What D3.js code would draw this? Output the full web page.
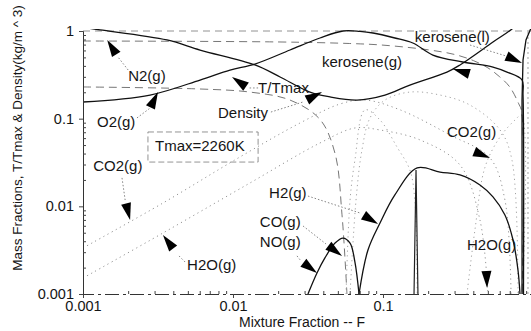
<!DOCTYPE html>
<html><head><meta charset="utf-8">
<script src="https://cdn.jsdelivr.net/npm/d3@7"></script>
<style>
body{margin:0;background:#fff}
svg{display:block}
text{font-family:"Liberation Sans",Arial,Helvetica,sans-serif;fill:#151515}
</style>
</head><body>
<svg id="chart" width="531" height="331"></svg>
<script>
// ---- axes ----
const xMajor = [0.001, 0.01, 0.1, 1];
const xMajorLabels = ["0.001", "0.01", "0.1", ""];
const yMajor = [0.001, 0.01, 0.1, 1];
const yMajorLabels = ["0.001", "0.01", "0.1", "1"];
const xTitle = "Mixture Fraction -- F";
const yTitle = "Mass Fractions, T/Tmax & Density(kg/m ^ 3)";

// ---- series: [mixture fraction F, value] ----
const tempRatio = [[0.001,0.155],[0.0028,0.186],[0.00603,0.276],[0.00955,0.359],[0.014,0.42],[0.024,0.607],[0.038,0.832],[0.0541,1.0],[0.0702,0.99],[0.0858,0.949],[0.12,0.832],[0.158,0.73],[0.215,0.532],[0.34,0.443],[0.541,0.388],[0.671,0.34],[0.845,0.276],[0.858,0.186],[0.864,0.001]];
const density = [[0.001,1.1],[0.0013,1.03],[0.00363,0.79],[0.00603,0.607],[0.014,0.41],[0.0206,0.299],[0.0326,0.201],[0.0443,0.177],[0.0671,0.163],[0.103,0.186],[0.151,0.242],[0.267,0.34],[0.326,0.41],[0.541,0.749],[0.736,1.08],[0.8,1.3]];
const n2Gas = [[0.001,0.769],[0.02,0.75],[0.06,0.72],[0.1,0.69],[0.2,0.61],[0.3,0.54],[0.4,0.46],[0.5,0.38],[0.6,0.3],[0.7,0.23],[0.8,0.15],[0.84,0.12],[0.846,0.001]];
const o2Gas = [[0.001,0.23],[0.00603,0.218],[0.013,0.201],[0.024,0.163],[0.038,0.098],[0.0479,0.04],[0.0533,0.008],[0.0575,0.001]];
const co2Gas = [[0.001,0.00335],[0.00341,0.0109],[0.0111,0.0365],[0.028,0.0893],[0.0517,0.147],[0.0759,0.163],[0.13,0.126],[0.28,0.0651],[0.517,0.0356],[0.65,0.0118],[0.714,0.001]];
const h2oGas = [[0.001,0.00152],[0.00341,0.00496],[0.013,0.0185],[0.038,0.0528],[0.065,0.0783],[0.0955,0.0743],[0.177,0.0571],[0.326,0.0296],[0.443,0.00698],[0.501,0.001]];
const h2Gas = [[0.0692,0.001],[0.0794,0.00318],[0.0955,0.00646],[0.12,0.0135],[0.169,0.0274],[0.24,0.0246],[0.326,0.0228],[0.443,0.0175],[0.541,0.0128],[0.65,0.00796],[0.736,0.00413],[0.794,0.00188],[0.819,0.001]];
const noGas = [[0.0316,0.001],[0.0363,0.00174],[0.041,0.00258],[0.0479,0.00381],[0.0541,0.00435],[0.0603,0.00381],[0.065,0.00231],[0.0692,0.001]];
const coGas = [[0.0603,0.001],[0.0661,0.0118],[0.0724,0.044],[0.0819,0.102],[0.103,0.163],[0.151,0.201],[0.24,0.186],[0.38,0.143],[0.603,0.0743],[0.724,0.0338],[0.794,0.001]];
const ohGas = [[0.0567,0.001],[0.0603,0.0118],[0.065,0.0338],[0.0759,0.126],[0.0955,0.0966],[0.124,0.0475],[0.151,0.026],[0.163,0.0118],[0.169,0.001]];
const spikeGas = [[0.161,0.001],[0.166,0.026],[0.171,0.001]];
const keroseneGas = [[0.363,0.001],[0.41,0.00537],[0.479,0.0281],[0.603,0.0618],[0.759,0.0966],[0.84,0.11],[0.85,0.001]];
const keroseneLiq = [[0.845,0.001],[0.845,0.163],[0.858,0.467],[0.898,0.79],[0.97,1.08]];
const residual = [[0.926,0.001],[0.926,1.03]];

// ---- annotations (data coordinates) ----
const labels = [
  ["N2(g)",0.002,0.269],["O2(g)",0.00124,0.0804],["CO2(g)",0.00117,0.0253],
  ["T/Tmax",0.0147,0.196],["Density",0.00794,0.102],["Tmax=2260K",0.00302,0.0428],
  ["H2(g)",0.0174,0.0125],["CO(g)",0.0151,0.00581],["NO(g)",0.0151,0.00344],
  ["H2O(g)",0.00494,0.00188],["kerosene(g)",0.0392,0.388],["kerosene(l)",0.163,0.749],
  ["CO2(g)",0.267,0.0618],["H2O(g)",0.363,0.00318]
];
const tmaxBox = [[0.00271,0.0705],[0.0147,0.032]];
// arrow: tip F, tip V, base F, base V
const arrows = [
  [0.00145,0.79,0.00171,0.505],[0.00316,0.201,0.0028,0.132],[0.00206,0.00698,0.00191,0.0118],
  [0.00985,0.299,0.0126,0.224],[0.0392,0.201,0.0293,0.155],[0.00341,0.00471,0.0043,0.00279],
  [0.293,0.369,0.398,0.315],[0.845,0.431,0.661,0.519],[0.517,0.0356,0.38,0.044],
  [0.0927,0.00629,0.0702,0.0084],[0.0533,0.00272,0.0417,0.00372],[0.0363,0.00174,0.0284,0.00238],
  [0.494,0.00117,0.486,0.00258]
];
// leaders: from F,V to F,V
const leaders = [
  [0.002,0.359,0.00171,0.505],[0.00229,0.102,0.0028,0.132],[0.00182,0.0211,0.00191,0.0118],
  [0.0147,0.224,0.0126,0.224],[0.0179,0.119,0.0293,0.155],[0.00479,0.00232,0.0043,0.00279],
  [0.38,0.692,0.661,0.519],[0.0316,0.0131,0.0702,0.0084],[0.0293,0.00597,0.0417,0.00372],
  [0.0267,0.00272,0.0284,0.00238]
];

// ---- drawing ----
const svg = d3.select("#chart");
const x = d3.scaleLog().domain([0.001, 1]).range([83, 533]);
const y = d3.scaleLog().domain([0.001, 1]).range([294, 31]);

svg.append("clipPath").attr("id","plot").append("rect")
  .attr("x",83).attr("y",29).attr("width",448).attr("height",266);

const g = svg.append("g").attr("clip-path","url(#plot)");

// top frame
g.append("line").attr("x1",x(0.001)).attr("x2",x(1)).attr("y1",y(1)).attr("y2",y(1))
  .attr("stroke","#777").attr("stroke-width",0.8).attr("stroke-dasharray","7,5");

const seriesTable = [
  {d:n2Gas, c:"#666", w:0.9, dash:"8,5"},
  {d:o2Gas, c:"#666", w:0.9, dash:"8,5"},
  {d:co2Gas, c:"#888", w:0.9, dash:"1.2,3.5"},
  {d:h2oGas, c:"#888", w:0.9, dash:"1.2,3.5"},
  {d:coGas, c:"#999", w:0.9, dash:"1.2,3.5"},
  {d:ohGas, c:"#999", w:0.9, dash:"1.2,3.5"},
  {d:keroseneGas, c:"#999", w:0.9, dash:"1.2,3.5"},
  {d:residual, c:"#999", w:0.9, dash:"2,3", lin:true},
  {d:spikeGas, c:"#222", w:1.2, lin:true},
  {d:noGas, c:"#111", w:1.3},
  {d:h2Gas, c:"#111", w:1.3},
  {d:keroseneLiq, c:"#111", w:1.3, lin:true},
  {d:density, c:"#111", w:1.3},
  {d:tempRatio, c:"#111", w:1.3}
];
seriesTable.forEach(s => {
  const line = d3.line().x(d => x(d[0])).y(d => y(d[1]))
    .curve(s.lin ? d3.curveLinear : d3.curveCatmullRom.alpha(0.5));
  g.append("path").attr("d", line(s.d)).attr("fill","none")
    .attr("stroke", s.c).attr("stroke-width", s.w)
    .attr("stroke-dasharray", s.dash || null);
});

// axes
const minorX = [], minorY = [];
[0.001,0.01,0.1].forEach(b => { for (let k=2;k<10;k++){ minorX.push(b*k); minorY.push(b*k);} });

const xAxis = svg.append("g").attr("transform","translate(0,294)")
  .call(d3.axisBottom(x).tickValues(xMajor).tickFormat((d,i)=>xMajorLabels[i]).tickSize(4).tickPadding(3));
svg.append("g").attr("transform","translate(0,294)")
  .call(d3.axisBottom(x).tickValues(minorX).tickFormat("").tickSize(-3))
  .select(".domain").remove();
const yAxis = svg.append("g").attr("transform","translate(83,0)")
  .call(d3.axisLeft(y).tickValues(yMajor).tickFormat((d,i)=>yMajorLabels[i]).tickSize(4).tickPadding(5));
svg.append("g").attr("transform","translate(83,0)")
  .call(d3.axisLeft(y).tickValues(minorY).tickFormat("").tickSize(-3))
  .select(".domain").remove();

svg.selectAll(".domain").attr("stroke","#333").attr("stroke-width",1);
xAxis.select(".domain").attr("stroke-dasharray","14,4,3,4");
svg.selectAll(".tick line").attr("stroke","#444");
svg.selectAll(".tick text").attr("font-size","14.5px").attr("fill","#151515")
  .attr("font-family","Liberation Sans, Arial, sans-serif");

svg.append("text").attr("x",302).attr("y",327).attr("text-anchor","middle")
  .attr("font-size","14px").text(xTitle);
svg.append("text").attr("transform","translate(22,138) rotate(-90)").attr("text-anchor","middle")
  .attr("font-size","13.5px").text(yTitle);

// annotations
const ann = svg.append("g");
leaders.forEach(l => {
  ann.append("line").attr("x1",x(l[0])).attr("y1",y(l[1])).attr("x2",x(l[2])).attr("y2",y(l[3]))
    .attr("stroke","#666").attr("stroke-width",0.8).attr("stroke-dasharray","1.5,2");
});
arrows.forEach(a => {
  const tx=x(a[0]), ty=y(a[1]);
  let bx=x(a[2]), by=y(a[3]);
  let dx=tx-bx, dy=ty-by; const L=Math.hypot(dx,dy); dx/=L; dy/=L;
  const len=17, hw=5;
  bx = tx - dx*len; by = ty - dy*len;
  const px=-dy, py=dx;
  ann.append("path")
    .attr("d",`M${tx},${ty}L${bx+px*hw},${by+py*hw}L${bx-px*hw},${by-py*hw}Z`)
    .attr("fill","#000");
});
const b0=[x(tmaxBox[0][0]),y(tmaxBox[0][1])], b1=[x(tmaxBox[1][0]),y(tmaxBox[1][1])];
ann.append("rect").attr("x",b0[0]).attr("y",b0[1]).attr("width",b1[0]-b0[0]).attr("height",b1[1]-b0[1])
  .attr("fill","none").attr("stroke","#777").attr("stroke-width",0.8).attr("stroke-dasharray","6,3");
labels.forEach(t => {
  ann.append("text").attr("x",x(t[1])).attr("y",y(t[2])).attr("font-size","15px").text(t[0]);
});
</script>
</body></html>
